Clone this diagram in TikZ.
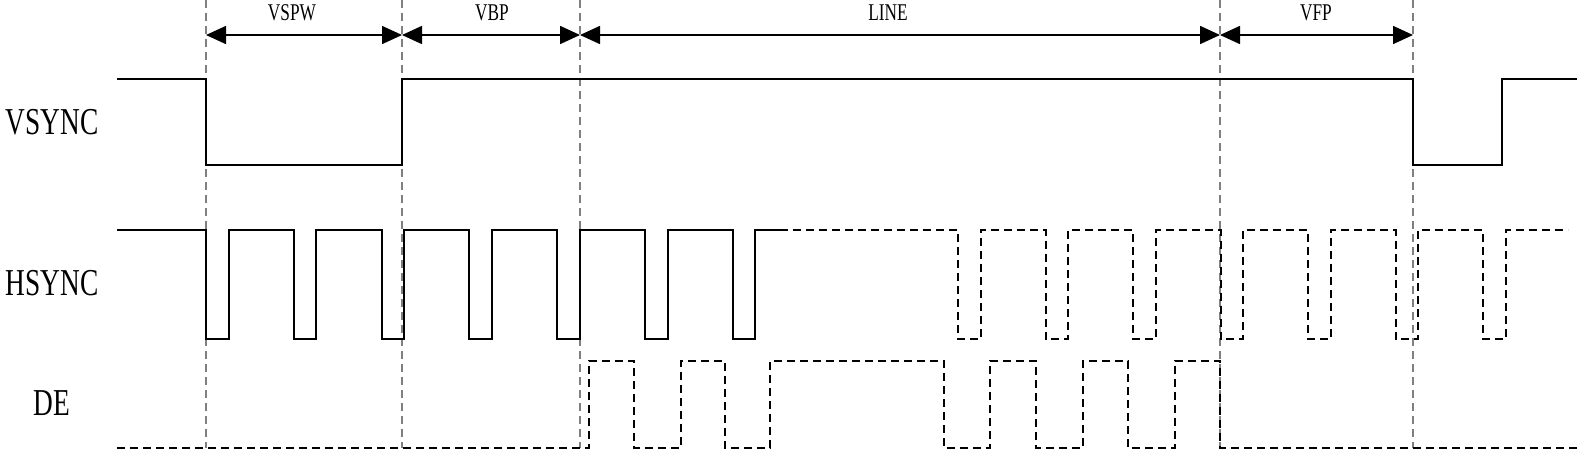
\documentclass[tikz,border=0pt]{standalone}
\usepackage{fontspec}
\setmainfont[FakeStretch=0.72]{Liberation Serif}
\usetikzlibrary{arrows.meta}
\definecolor{gridgray}{RGB}{128,128,128}
\begin{document}
\begin{tikzpicture}[x=1pt,y=-1pt,
  sig/.style={line width=2pt,black,line join=miter},
  sigdash/.style={sig,dash pattern=on 8pt off 5pt},
  gridline/.style={gridgray,line width=1.5pt,dash pattern=on 8pt off 5pt},
  dimarrow/.style={line width=1.6pt,{Triangle[length=20pt,width=18pt]}-{Triangle[length=20pt,width=18pt]}},
  toplab/.style={inner sep=0pt,font=\fontsize{24}{24}\selectfont},
  signame/.style={inner sep=0pt,font=\fontsize{38}{38}\selectfont}]
\useasboundingbox (0,0) rectangle (1585,453);
% grid lines
\foreach \n/\x in {1/206,2/402,3/580,4/1220,5/1413}{
  \coordinate (gt\n) at (\x,0);
  \coordinate (gb\n) at (\x,448);
  \coordinate (ar\n) at (\x,35);
  \draw[gridline] (gt\n) -- (gb\n);
}
% dimension arrows
\draw[dimarrow] (ar1) -- (ar2);
\draw[dimarrow] (ar2) -- (ar3);
\draw[dimarrow] (ar3) -- (ar4);
\draw[dimarrow] (ar4) -- (ar5);
\node[toplab] (lvspw) at (292,13) {VSPW};
\node[toplab] (lvbp) at (492,13) {VBP};
\node[toplab] (lline) at (888,13) {LINE};
\node[toplab] (lvfp) at (1316,13) {VFP};
% signal names
\node[signame] (nvsync) at (52,122) {VSYNC};
\node[signame] (nhsync) at (52,283) {HSYNC};
\node[signame] (nde) at (52,403) {DE};
% VSYNC
\draw[sig] (117,79) -- (206,79) -- (206,165) -- (402,165) -- (402,79)
  -- (1413,79) -- (1413,165) -- (1502,165) -- (1502,79) -- (1577,79);
% HSYNC solid part
\draw[sig] (117,230)
  \foreach \f in {206,293.8,381.6,469.4,557.2,645,732.8}{
    -- (\f,230) -- (\f,339) -- ({\f+22.5},339) -- ({\f+22.5},230)}
  -- (780,230);
% HSYNC dashed part
\draw[sigdash] (780,230)
  \foreach \f in {958,1045.5,1133,1220.5,1308,1395.5,1483}{
    -- (\f,230) -- (\f,339) -- ({\f+22.5},339) -- ({\f+22.5},230)}
  -- (1568,230);
% DE
\draw[sigdash] (117,448) -- (589,448) -- (589,361) -- (634,361) -- (634,448)
  -- (681,448) -- (681,361) -- (725,361) -- (725,448)
  -- (770,448) -- (770,361) -- (944,361) -- (944,448)
  -- (990,448) -- (990,361) -- (1036,361) -- (1036,448)
  -- (1083,448) -- (1083,361) -- (1128,361) -- (1128,448)
  -- (1175,448) -- (1175,361) -- (1220,361) -- (1220,448)
  -- (1578,448);
\end{tikzpicture}
\end{document}
